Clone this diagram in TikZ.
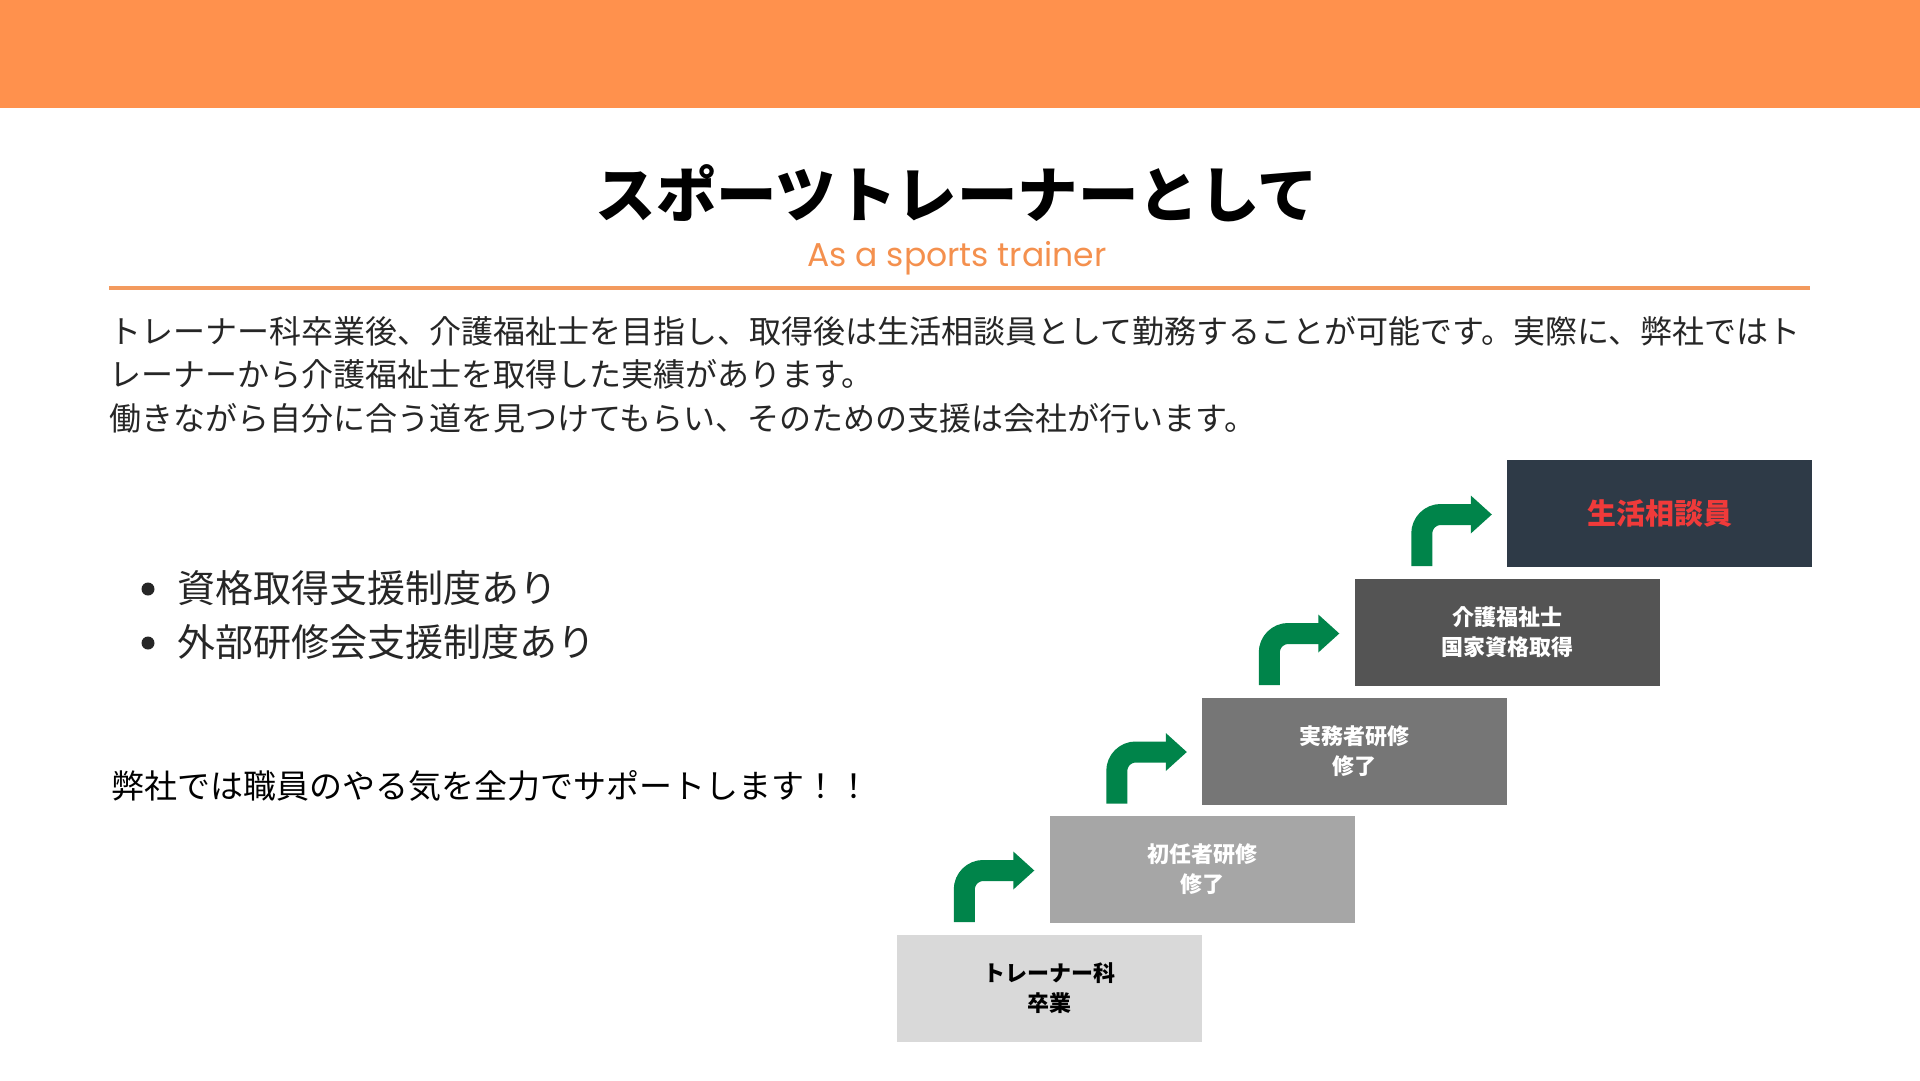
\documentclass[tikz,border=0pt]{standalone}
\usepackage{fontspec}
\setmainfont{Noto Sans CJK JP}
\newfontfamily\jp{Noto Sans CJK JP}
\newfontfamily\subf{Poppins}
\usetikzlibrary{calc}
\definecolor{topbar}{HTML}{FF914D}
\definecolor{suborange}{HTML}{F4904E}
\definecolor{rule}{HTML}{F39A5E}
\definecolor{arrowgreen}{HTML}{00844A}
\definecolor{boxa}{HTML}{D9D9D9}
\definecolor{boxb}{HTML}{A6A6A6}
\definecolor{boxc}{HTML}{767676}
\definecolor{boxd}{HTML}{545454}
\definecolor{boxe}{HTML}{2E3A47}
\definecolor{goalred}{HTML}{F03A3A}
\definecolor{bodytext}{HTML}{262626}
\tikzset{
  stepbox/.style={minimum width=305pt, minimum height=107pt, inner sep=0pt, align=center,
    font=\jp\bfseries\fontsize{22}{30}\selectfont},
  bodyline/.style={anchor=west, inner sep=0pt, text=bodytext, font=\jp\fontsize{32}{40}\selectfont},
  bulletline/.style={anchor=west, inner sep=0pt, text=bodytext, font=\jp\fontsize{38}{46}\selectfont},
  greenbend/.style={draw=arrowgreen, line width=21pt, rounded corners=19pt},
  greenhead/.style={fill=arrowgreen},
}
\begin{document}
\begin{tikzpicture}[x=1pt,y=-1pt]
\useasboundingbox (0,0) rectangle (1920,1080);
\fill[white] (0,0) rectangle (1920,1080);
\fill[topbar] (0,0) rectangle (1920,108);

\node[font=\jp\bfseries\fontsize{60.5}{66}\selectfont, text=black, inner sep=0pt] (title) at (957,193) {スポーツトレーナーとして};
\node[font=\subf\fontsize{33}{36}\selectfont, text=suborange, inner sep=0pt] (subtitle) at (957,258) {As a sports trainer};
\draw[rule, line width=4pt] (109,288) -- (1810,288);

\node[bodyline] (p1) at (109,331) {トレーナー科卒業後、介護福祉士を目指し、取得後は生活相談員として勤務することが可能です。実際に、弊社ではト};
\node[bodyline] (p2) at (109,374) {レーナーから介護福祉士を取得した実績があります。};
\node[bodyline] (p3) at (109,418) {働きながら自分に合う道を見つけてもらい、そのための支援は会社が行います。};

\fill[bodytext] (148,589) circle (6.5);
\node[bulletline] (b1) at (177,588) {資格取得支援制度あり};
\fill[bodytext] (148,643) circle (6.5);
\node[bulletline] (b2) at (177,642) {外部研修会支援制度あり};

\node[anchor=west, inner sep=0pt, text=black, font=\jp\fontsize{33}{40}\selectfont] (support) at (111,786) {弊社では職員のやる気を全力でサポートします！！};

\node[stepbox, fill=boxa, text=black] (s1) at (1049.5,988.5) {トレーナー科\\卒業};
\node[stepbox, fill=boxb, text=white] (s2) at (1202,869.5) {初任者研修\\修了};
\node[stepbox, fill=boxc, text=white] (s3) at (1354.5,751) {実務者研修\\修了};
\node[stepbox, fill=boxd, text=white] (s4) at (1507,632.5) {介護福祉士\\国家資格取得};
\node[stepbox, fill=boxe, text=goalred, font=\jp\bfseries\fontsize{29}{34}\selectfont] (s5) at (1659.5,513.5) {生活相談員};

\foreach \a/\b in {s1/s2,s2/s3,s3/s4,s4/s5}{
  \draw[greenbend] ($(\b.south west)+(-85,-1)$) -- ($(\b.west)+(-85,1)$) -- ($(\b.west)+(-34,1)$);
  \fill[greenhead] ($(\b.west)+(-36,-18)$) -- ($(\b.west)+(-15,1)$) -- ($(\b.west)+(-36,20)$) -- cycle;
}
\end{tikzpicture}
\end{document}
